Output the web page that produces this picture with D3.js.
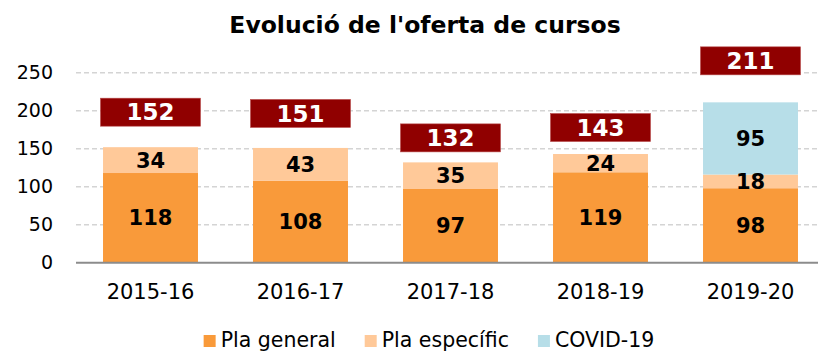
<!DOCTYPE html>
<html>
<head>
<meta charset="utf-8">
<script src="https://cdn.jsdelivr.net/npm/d3@7"></script>
<style>
  html, body { margin: 0; padding: 0; background: #fff; }
  svg { display: block; font-family: "DejaVu Sans", Verdana, sans-serif; }
</style>
</head>
<body>
<svg id="chart" width="818" height="352"></svg>
<script>
// Course offer per academic year, split by training plan
const years = ["2015-16", "2016-17", "2017-18", "2018-19", "2019-20"];
const plaGeneral = [118, 108, 97, 119, 98];
const plaEspecific = [34, 43, 35, 24, 18];
const covid19 = [0, 0, 0, 0, 95];
const totals = [152, 151, 132, 143, 211];
const seriesNames = ["Pla general", "Pla específic", "COVID-19"];
const yTicks = [0, 50, 100, 150, 200, 250];

const colors = ["#F99A3A", "#FFC999", "#B7DEE8"];
// vertical gap (px) between each bar top and its total badge
const badgeGap = [21, 20.5, 10.5, 12.5, 27.5];

const svg = d3.select("#chart");
const W = 818;

const rows = years.map((y, i) => ({
  year: y,
  "Pla general": plaGeneral[i],
  "Pla específic": plaEspecific[i],
  "COVID-19": covid19[i],
  total: totals[i]
}));

const x = d3.scaleBand().domain(years).range([75.5, 825.5])
  .paddingInner(0.367).paddingOuter(0.1835);
const y = d3.scaleLinear().domain([0, 250]).range([262.7, 72.7]);

// Title
svg.append("text")
  .attr("x", 425).attr("y", 33)
  .attr("text-anchor", "middle")
  .style("font-weight", "bold").style("font-size", "23.5px")
  .attr("fill", "#000")
  .text("Evolució de l'oferta de cursos");

// Dashed gridlines
svg.append("g").selectAll("line")
  .data(yTicks.filter(t => t > 0))
  .join("line")
  .attr("x1", 76).attr("x2", W)
  .attr("y1", d => y(d)).attr("y2", d => y(d))
  .attr("stroke", "#d4d4d4").attr("stroke-width", 1.6)
  .attr("stroke-dasharray", "5,3");

// Y axis labels
const yAxis = d3.axisLeft(y).tickValues(yTicks).tickSize(0).tickPadding(0);
const gy = svg.append("g").attr("transform", "translate(53,0)").call(yAxis);
gy.select(".domain").remove();
gy.selectAll("text").style("font-size", "19px").attr("fill", "#000")
  .style("font-family", "DejaVu Sans, Verdana, sans-serif");

// Stacked bars
const stack = d3.stack().keys(seriesNames);
const layers = stack(rows);

const gBars = svg.append("g");
layers.forEach((layer, li) => {
  gBars.append("g").attr("fill", colors[li])
    .selectAll("rect")
    .data(layer)
    .join("rect")
    .attr("x", d => x(d.data.year))
    .attr("width", x.bandwidth())
    .attr("y", d => y(d[1]))
    .attr("height", d => y(d[0]) - y(d[1]));
});

// Segment value labels
layers.forEach((layer) => {
  gBars.append("g").selectAll("text")
    .data(layer.filter(d => d[1] - d[0] > 0))
    .join("text")
    .attr("x", d => x(d.data.year) + x.bandwidth() / 2)
    .attr("y", d => (y(d[0]) + y(d[1])) / 2)
    .attr("dy", "0.36em")
    .attr("text-anchor", "middle")
    .style("font-weight", "bold").style("font-size", "21px")
    .attr("fill", "#000")
    .text(d => d[1] - d[0]);
});

// X axis
const xAxis = d3.axisBottom(x).tickSize(0).tickPadding(0);
const gx = svg.append("g").attr("transform", `translate(0,${y(0)})`).call(xAxis);
gx.select(".domain").remove();
gx.selectAll("text").style("font-size", "21px").attr("fill", "#000")
  .style("font-family", "DejaVu Sans, Verdana, sans-serif")
  .attr("y", 0).attr("dy", "36.6px");
svg.append("line")
  .attr("x1", 76).attr("x2", W)
  .attr("y1", y(0)).attr("y2", y(0))
  .attr("stroke", "#8c8c8c").attr("stroke-width", 2);

// Total badges
const badgeW = 100, badgeH = 28;
const badges = svg.append("g").selectAll("g")
  .data(rows)
  .join("g")
  .attr("transform", (d, i) =>
    `translate(${x(d.year) + x.bandwidth() / 2},${y(d.total) - badgeGap[i] - badgeH / 2})`);
badges.append("rect")
  .attr("x", -badgeW / 2).attr("y", -badgeH / 2)
  .attr("width", badgeW).attr("height", badgeH)
  .attr("fill", "#900000")
  .attr("stroke", "#b84a4a").attr("stroke-width", 0.6);
badges.append("text")
  .attr("text-anchor", "middle").attr("dy", "0.36em")
  .style("font-weight", "bold").style("font-size", "23px")
  .attr("fill", "#fff")
  .text(d => d.total);

// Legend
const legend = svg.append("g");
let lx = 0;
seriesNames.forEach((name, i) => {
  const item = legend.append("g").attr("transform", `translate(${lx},0)`);
  item.append("rect").attr("x", 0).attr("y", 335).attr("width", 12).attr("height", 12)
    .attr("fill", colors[i]);
  const t = item.append("text").attr("x", 17).attr("y", 347)
    .style("font-size", "20.5px").attr("fill", "#000").text(name);
  lx += 17 + t.node().getComputedTextLength() + 29;
});
const legendW = lx - 29;
legend.attr("transform", `translate(${429 - legendW / 2},0)`);
</script>
</body>
</html>
